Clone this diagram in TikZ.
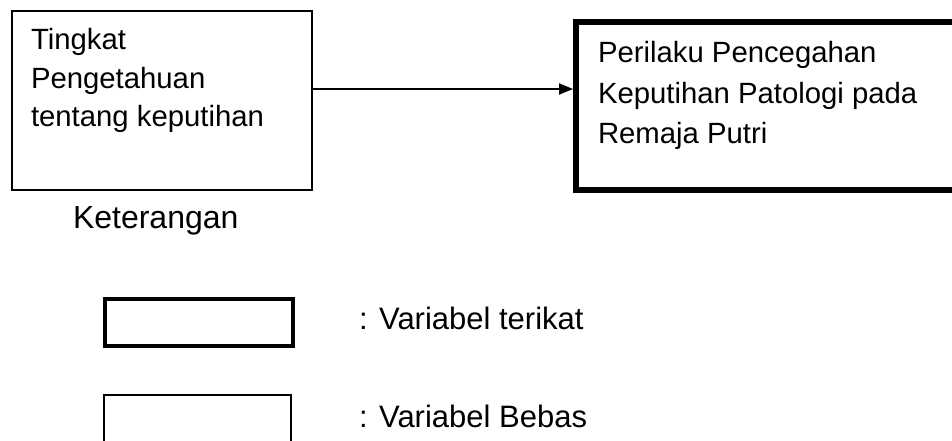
\documentclass[tikz,border=0pt]{standalone}
\usepackage{fontspec}
\setmainfont{Liberation Sans}
\usetikzlibrary{arrows.meta}
\begin{document}
\begin{tikzpicture}[x=1pt,y=-1pt,
  txt/.style={inner sep=0pt, outer sep=0pt, anchor=base west},
  blocktxt/.style={inner sep=0pt, outer sep=0pt, anchor=north west, align=left},
  thinbox/.style={draw, line width=2pt, inner sep=0pt, outer sep=0pt},
  thickbox/.style={draw, line width=6pt, inner sep=0pt, outer sep=0pt},
  legthick/.style={draw, line width=3.5pt, inner sep=0pt, outer sep=0pt},
  conn/.style={line width=2pt, -{Triangle[length=14pt,width=11pt]}}]
\useasboundingbox (0,0) rectangle (952,441);
% main boxes
\node[thinbox, minimum width=300pt, minimum height=179pt] (lbox) at (162,100.5) {};
\node[thickbox, minimum width=424pt, minimum height=168pt] (rbox) at (788,106) {};
% texts in boxes
\node[blocktxt, font=\fontsize{29.3}{38.5}\selectfont] (ltxt) at (31,28.5) {Tingkat\\Pengetahuan\\tentang keputihan};
\node[blocktxt, font=\fontsize{29.3}{40.5}\selectfont] (rtxt) at (598,41.5) {Perilaku Pencegahan\\Keputihan Patologi pada\\Remaja Putri};
% connector
\coordinate (ay) at (0,89);
\draw[conn, shorten >=3pt] (lbox.east |- ay) -- (rbox.west |- ay);
% legend
\node[txt, font=\fontsize{32}{38}\selectfont] (ket) at (73,228) {Keterangan};
\node[legthick, minimum width=188pt, minimum height=47pt] (lg1) at (199,322.5) {};
\node[thinbox, minimum width=187pt, minimum height=50pt] (lg2) at (197.5,420) {};
\node[txt, font=\fontsize{31}{38}\selectfont] (lt1) at (359,329) {: Variabel terikat};
\node[txt, font=\fontsize{31}{38}\selectfont] (lt2) at (359,427) {: Variabel Bebas};
\end{tikzpicture}
\end{document}
